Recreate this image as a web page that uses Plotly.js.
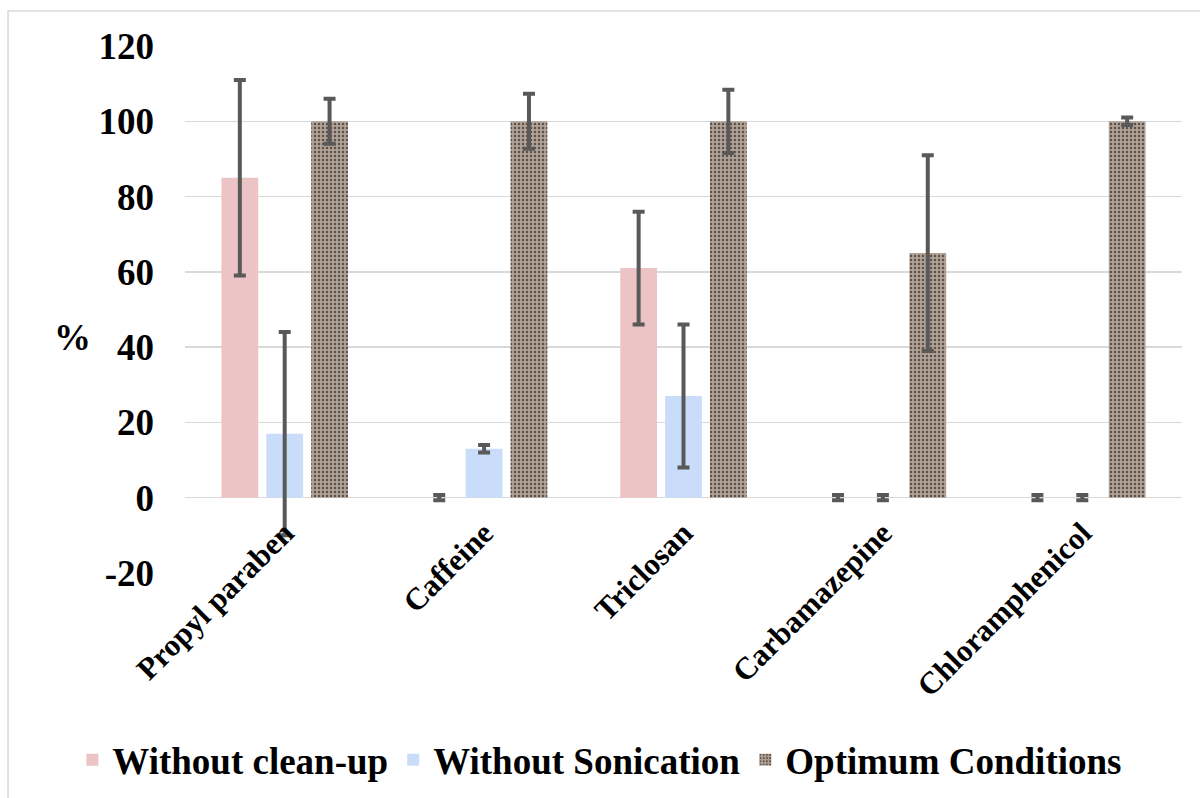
<!DOCTYPE html>
<html>
<head>
<meta charset="utf-8">
<script src="https://cdn.plot.ly/plotly-3.0.1.min.js"></script>
<style>html,body{margin:0;padding:0;background:#fff;}#chart{width:1200px;height:798px;}</style>
</head>
<body>
<div id="chart"></div>
<script>
var categories = ['Propyl paraben', 'Caffeine', 'Triclosan', 'Carbamazepine', 'Chloramphenicol'];
var seriesNames = ['Without clean-up', 'Without Sonication', 'Optimum Conditions'];
var withoutCleanup = [85, 0, 61, 0, 0];
var withoutCleanupErr = [26, 0.7, 15, 0.7, 0.7];
var withoutSonication = [17, 13, 27, 0, 0];
var withoutSonicationErr = [27, 1, 19, 0.7, 0.7];
var optimum = [100, 100, 100, 65, 100];
var optimumErr = [6, 7.3, 8.4, 26, 1];
var yTicks = [-20, 0, 20, 40, 60, 80, 100, 120];
var yTickLabels = ['-20', '0', '20', '40', '60', '80', '100', '120'];

var FONT = 'Liberation Serif, Times New Roman, serif';
function err(a) {
  return {type: 'data', array: a, visible: true, color: '#595959', thickness: 4, width: 6};
}
var traces = [
  {type: 'bar', name: seriesNames[0], x: categories, y: withoutCleanup, error_y: err(withoutCleanupErr),
   marker: {color: '#ecc4c5', line: {width: 0}}},
  {type: 'bar', name: seriesNames[1], x: categories, y: withoutSonication, error_y: err(withoutSonicationErr),
   marker: {color: '#c9dcf9', line: {width: 0}}},
  {type: 'bar', name: seriesNames[2], x: categories, y: optimum, error_y: err(optimumErr),
   marker: {color: '#a89a8e', line: {width: 0},
     pattern: {shape: '.', fgcolor: '#5e5048', bgcolor: '#b0a296', size: 4, solidity: 0.3}}}
];

var layout = {
  width: 1200, height: 798,
  margin: {l: 185, r: 18, t: 46, b: 225, autoexpand: false},
  paper_bgcolor: '#ffffff', plot_bgcolor: '#ffffff',
  barmode: 'group', bargap: 0.325, bargroupgap: 0.18,
  font: {family: FONT, color: '#000000'},
  xaxis: {
    type: 'category', range: [-0.5, 4.5], anchor: 'free', position: 1 / 7,
    showgrid: false, showline: false, zeroline: false, ticks: '', automargin: false,
    ticklabelstandoff: 10,
    tickangle: -45, tickfont: {family: FONT, size: 31, color: '#000', weight: 'bold'}
  },
  yaxis: {
    range: [-20, 120], tickvals: yTicks, ticktext: yTickLabels, tickmode: 'array',
    showgrid: true, gridcolor: '#d9d9d9', gridwidth: 1.5, automargin: false,
    zeroline: true, zerolinecolor: '#d9d9d9', zerolinewidth: 1.5, showline: false, ticks: '',
    ticklabelstandoff: 30,
    tickfont: {family: FONT, size: 37, color: '#000', weight: 'bold'}
  },
  showlegend: true,
  legend: {
    orientation: 'h', xref: 'paper', yref: 'paper', x: -0.113, xanchor: 'left', y: -0.355, yanchor: 'middle',
    font: {family: FONT, size: 37, color: '#000', weight: 'bold'},
    itemwidth: 30, tracegroupgap: 0, bgcolor: 'rgba(0,0,0,0)'
  },
  annotations: [
    {text: '<b>%</b>', xref: 'paper', yref: 'y', x: -0.113, y: 42.5, xanchor: 'center', yanchor: 'middle',
     showarrow: false, font: {family: FONT, size: 37, color: '#000'}}
  ],
  shapes: [
    {type: 'rect', xref: 'paper', yref: 'paper', x0: -0.1775, x1: 1.05, y0: -0.6, y1: 1.0664,
     line: {color: '#d9d9d9', width: 1.5}, fillcolor: 'rgba(0,0,0,0)', layer: 'below'}
  ]
};

Plotly.newPlot('chart', traces, layout, {displayModeBar: false, staticPlot: true});
</script>
</body>
</html>
